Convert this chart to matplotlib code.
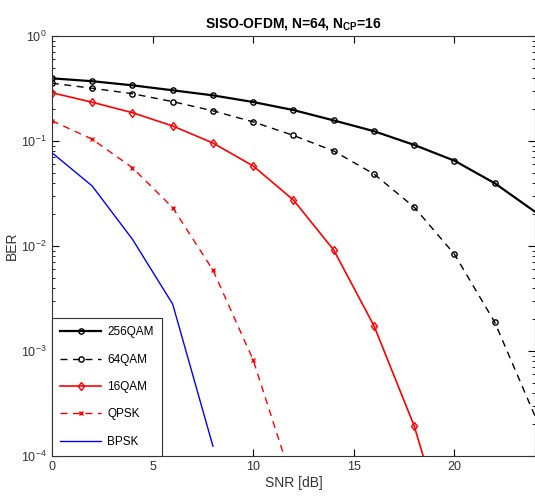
import matplotlib
matplotlib.use("Agg")
import matplotlib.pyplot as plt
import numpy as np

plt.rcParams['font.family'] = ['Liberation Sans', 'DejaVu Sans']
plt.rcParams['mathtext.fontset'] = 'custom'
plt.rcParams['mathtext.rm'] = 'Liberation Sans'
plt.rcParams['mathtext.bf'] = 'Liberation Sans:bold'

# SNR points [dB]
snr_256 = [0, 2, 4, 6, 8, 10, 12, 14, 16, 18, 20, 22, 24]
ber_256 = [0.395, 0.371, 0.339, 0.304, 0.272, 0.235, 0.197, 0.157, 0.124, 0.0917, 0.0649, 0.0396, 0.0212]

snr_64 = [0, 2, 4, 6, 8, 10, 12, 14, 16, 18, 20, 22, 24]
ber_64 = [0.355, 0.318, 0.282, 0.237, 0.194, 0.152, 0.113, 0.0803, 0.0485, 0.0234, 0.00834, 0.00188, 2.4e-4]

snr_16 = [0, 2, 4, 6, 8, 10, 12, 14, 16, 18, 20]
ber_16 = [0.288, 0.234, 0.186, 0.139, 0.0957, 0.0578, 0.0274, 0.00916, 0.00174, 1.93e-4, 1.0e-5]

snr_qpsk = [0, 2, 4, 6, 8, 10, 12]
ber_qpsk = [0.156, 0.104, 0.0557, 0.0232, 0.0059, 8.2e-4, 5.3e-5]

snr_bpsk = [0, 2, 4, 6, 8]
ber_bpsk = [0.0774, 0.0373, 0.0116, 0.0028, 1.24e-4]

fig = plt.figure(figsize=(5.35, 5.04), dpi=100)
ax = fig.add_axes([0.097, 0.0952, 0.903, 0.8334])

ax.semilogy(snr_256, ber_256, 'k-o', lw=1.6, ms=3.8, mfc='none', mew=1.0,
            markevery=slice(0, 12), label='256QAM')
ax.semilogy(snr_64, ber_64, 'k--o', lw=1.0, ms=3.8, mfc='none', mew=1.0,
            markevery=slice(0, 12), dashes=(5, 4), label='64QAM')
ax.semilogy(snr_16, ber_16, 'r-d', lw=1.2, ms=4.5, mfc='none', mew=1.0, label='16QAM')
ax.semilogy(snr_qpsk, ber_qpsk, 'r--x', lw=1.0, ms=3.5, mew=1.0, dashes=(5, 4), label='QPSK')
ax.semilogy(snr_bpsk, ber_bpsk, 'b-', lw=1.0, label='BPSK')

ax.set_xlim(0, 24)
ax.set_ylim(1e-4, 1)
ax.set_xticks([0, 5, 10, 15, 20])
ax.tick_params(which='both', direction='in', top=True, right=True, labelsize=9,
               labelcolor='#333333')
ax.tick_params(which='major', length=5)
ax.tick_params(which='minor', length=2.5)
for s in ax.spines.values():
    s.set_linewidth(0.8)
    s.set_color('#333333')

ax.set_xlabel('SNR [dB]', fontsize=10, labelpad=2, color='#333333')
ax.set_ylabel('BER', fontsize=10, labelpad=2, color='#333333')
ax.set_title(r'SISO-OFDM, N=64, N$_{\mathbf{CP}}$=16', fontsize=10, fontweight='bold')

leg = ax.legend(loc='lower left', fontsize=8.5, handlelength=3.5, numpoints=1,
                labelspacing=1.3, borderaxespad=0, fancybox=False, framealpha=1,
                edgecolor='#333333', borderpad=0.7, handletextpad=0.5)
leg.get_frame().set_linewidth(0.8)

fig.savefig('out.png', dpi=100)
